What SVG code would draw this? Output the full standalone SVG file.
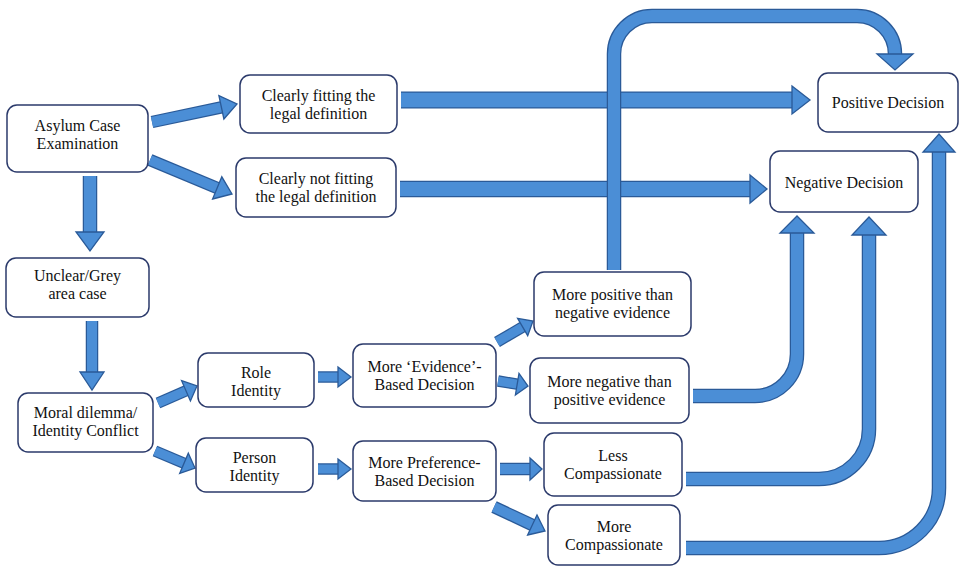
<svg xmlns="http://www.w3.org/2000/svg" width="960" height="567" viewBox="0 0 960 567">
<style>
.box{fill:#fff;stroke:#2b3a6b;stroke-width:1.5}
.t{font-family:"Liberation Serif","Times New Roman",serif;font-size:16px;fill:#111;text-anchor:middle}
.so{fill:none;stroke:#2a5a98;stroke-linecap:butt;stroke-linejoin:round}
.si{fill:none;stroke:#4b8ed6;stroke-linecap:butt;stroke-linejoin:round}
.hd{fill:#4b8ed6;stroke:#2a5a98;stroke-width:1.3;stroke-linejoin:miter}
</style>
<rect width="960" height="567" fill="#fff"/>
<g id="connectors">
  <path class="so" stroke-width="12.5" d="M152,122 L221.4,107.3"/><path class="si" stroke-width="10" d="M152,122 L222.4,107.1"/>
  <polygon class="hd" points="223.9,119 237,104 218.9,95.6"/>
  <path class="so" stroke-width="12.5" d="M150,160 L217.2,187.9"/><path class="si" stroke-width="10" d="M150,160 L218.2,188.3"/>
  <polygon class="hd" points="212.6,199 232,194 221.8,176.8"/>
  <path class="so" stroke-width="14.5" d="M90,176 V232"/><path class="si" stroke-width="12" d="M90,176 V233"/>
  <polygon class="hd" points="76,232 104,232 90,251"/>
  <path class="so" stroke-width="17" d="M401,100 H792"/><path class="si" stroke-width="14.5" d="M401,100 H793"/>
  <polygon class="hd" points="792,86 810,100 792,114"/>
  <path class="so" stroke-width="16.5" d="M400,189 H750"/><path class="si" stroke-width="14" d="M400,189 H751"/>
  <polygon class="hd" points="750,175 767,189 750,203"/>
  <path class="so" stroke-width="14.5" d="M693,396 H755 A42 42 0 0 0 797,354 V233"/><path class="si" stroke-width="12" d="M693,396 H755 A42 42 0 0 0 797,354 V232"/>
  <polygon class="hd" points="780,233 814,233 797,216"/>
  <path class="so" stroke-width="14.5" d="M686,479 H819 A50 50 0 0 0 869,429 V235"/><path class="si" stroke-width="12" d="M686,479 H819 A50 50 0 0 0 869,429 V234"/>
  <polygon class="hd" points="852,235 886,235 869,217"/>
  <path class="so" stroke-width="14.5" d="M686,548 H879 A60 60 0 0 0 939,488 V152"/><path class="si" stroke-width="12" d="M686,548 H879 A60 60 0 0 0 939,488 V151"/>
  <polygon class="hd" points="923,152 955,152 939,134"/>
  <path class="so" stroke-width="14.5" d="M614,270 V54 A38 38 0 0 1 652,16 H857 A38 38 0 0 1 895,54"/><path class="si" stroke-width="12" d="M614,270 V54 A38 38 0 0 1 652,16 H857 A38 38 0 0 1 895,54 V55"/>
  <polygon class="hd" points="877,54 913,54 895,70"/>
  <path class="so" stroke-width="12.5" d="M92,321 V372"/><path class="si" stroke-width="10" d="M92,321 V373"/>
  <polygon class="hd" points="80,372 104,372 92,390"/>
  <path class="so" stroke-width="11.5" d="M158,403 L186,390.8"/><path class="si" stroke-width="9" d="M158,403 L187,390.4"/>
  <polygon class="hd" points="190.4,400.9 197,386 181.6,380.7"/>
  <path class="so" stroke-width="11.5" d="M155,451 L184,463.3"/><path class="si" stroke-width="9" d="M155,451 L185,463.7"/>
  <polygon class="hd" points="179.7,473.4 195,468 188.3,453.2"/>
  <path class="so" stroke-width="11.5" d="M318,377 H338"/><path class="si" stroke-width="9" d="M318,377 H339"/>
  <polygon class="hd" points="338,367 351,377 338,387"/>
  <path class="so" stroke-width="11.5" d="M318,469 H338"/><path class="si" stroke-width="9" d="M318,469 H339"/>
  <polygon class="hd" points="338,459 351,469 338,479"/>
  <path class="so" stroke-width="11.5" d="M497,342 L522.6,327"/><path class="si" stroke-width="9" d="M497,342 L523.5,326.5"/>
  <polygon class="hd" points="527.7,335.7 533,321 517.6,318.4"/>
  <path class="so" stroke-width="11.5" d="M498,381 L517.2,384.2"/><path class="si" stroke-width="9" d="M498,381 L518.2,384.4"/>
  <polygon class="hd" points="515.4,395 528,386 519,373.4"/>
  <path class="so" stroke-width="12.5" d="M500,469 H530"/><path class="si" stroke-width="10" d="M500,469 H531"/>
  <polygon class="hd" points="530,458 542,469 530,480"/>
  <path class="so" stroke-width="12.5" d="M494,507 L532.3,525"/><path class="si" stroke-width="10" d="M494,507 L533.2,525.4"/>
  <polygon class="hd" points="527.6,535 545,531 537,515"/>
</g>
<g id="asylum"><rect class="box" x="7" y="105" width="141" height="67" rx="10"/><text class="t" x="77.5" y="131">Asylum Case</text><text class="t" x="77.5" y="149">Examination</text></g>
<g id="fitting"><rect class="box" x="240" y="75" width="157" height="58" rx="10"/><text class="t" x="318.5" y="101">Clearly fitting the</text><text class="t" x="318.5" y="119">legal definition</text></g>
<g id="notfitting"><rect class="box" x="236" y="158" width="160" height="59" rx="10"/><text class="t" x="316" y="184">Clearly not fitting</text><text class="t" x="316" y="202">the legal definition</text></g>
<g id="positive"><rect class="box" x="818" y="73" width="140" height="59" rx="10"/><text class="t" x="888" y="108">Positive Decision</text></g>
<g id="negative"><rect class="box" x="770" y="151" width="148" height="61" rx="10"/><text class="t" x="844" y="188">Negative Decision</text></g>
<g id="unclear"><rect class="box" x="6" y="258" width="143" height="59" rx="10"/><text class="t" x="77.5" y="281">Unclear/Grey</text><text class="t" x="77.5" y="299">area case</text></g>
<g id="moral"><rect class="box" x="18" y="393" width="135" height="59" rx="10"/><text class="t" x="85.5" y="418">Moral dilemma/</text><text class="t" x="85.5" y="436">Identity Conflict</text></g>
<g id="role"><rect class="box" x="198" y="353" width="116" height="54" rx="10"/><text class="t" x="256" y="378">Role</text><text class="t" x="256" y="396">Identity</text></g>
<g id="person"><rect class="box" x="196" y="438" width="117" height="54" rx="10"/><text class="t" x="254.5" y="463">Person</text><text class="t" x="254.5" y="481">Identity</text></g>
<g id="evidence"><rect class="box" x="353" y="344" width="143" height="63" rx="10"/><text class="t" x="424.5" y="372">More ‘Evidence’-</text><text class="t" x="424.5" y="390">Based Decision</text></g>
<g id="preference"><rect class="box" x="353" y="441" width="143" height="60" rx="10"/><text class="t" x="424.5" y="468">More Preference-</text><text class="t" x="424.5" y="486">Based Decision</text></g>
<g id="morepositive"><rect class="box" x="534" y="272" width="157" height="64" rx="10"/><text class="t" x="612.5" y="300">More positive than</text><text class="t" x="612.5" y="318">negative evidence</text></g>
<g id="morenegative"><rect class="box" x="530" y="358" width="159" height="65" rx="10"/><text class="t" x="609.5" y="387">More negative than</text><text class="t" x="609.5" y="405">positive evidence</text></g>
<g id="less"><rect class="box" x="544" y="433" width="138" height="63" rx="10"/><text class="t" x="613" y="461">Less</text><text class="t" x="613" y="479">Compassionate</text></g>
<g id="more"><rect class="box" x="548" y="505" width="132" height="60" rx="10"/><text class="t" x="614" y="532">More</text><text class="t" x="614" y="550">Compassionate</text></g>
</svg>
